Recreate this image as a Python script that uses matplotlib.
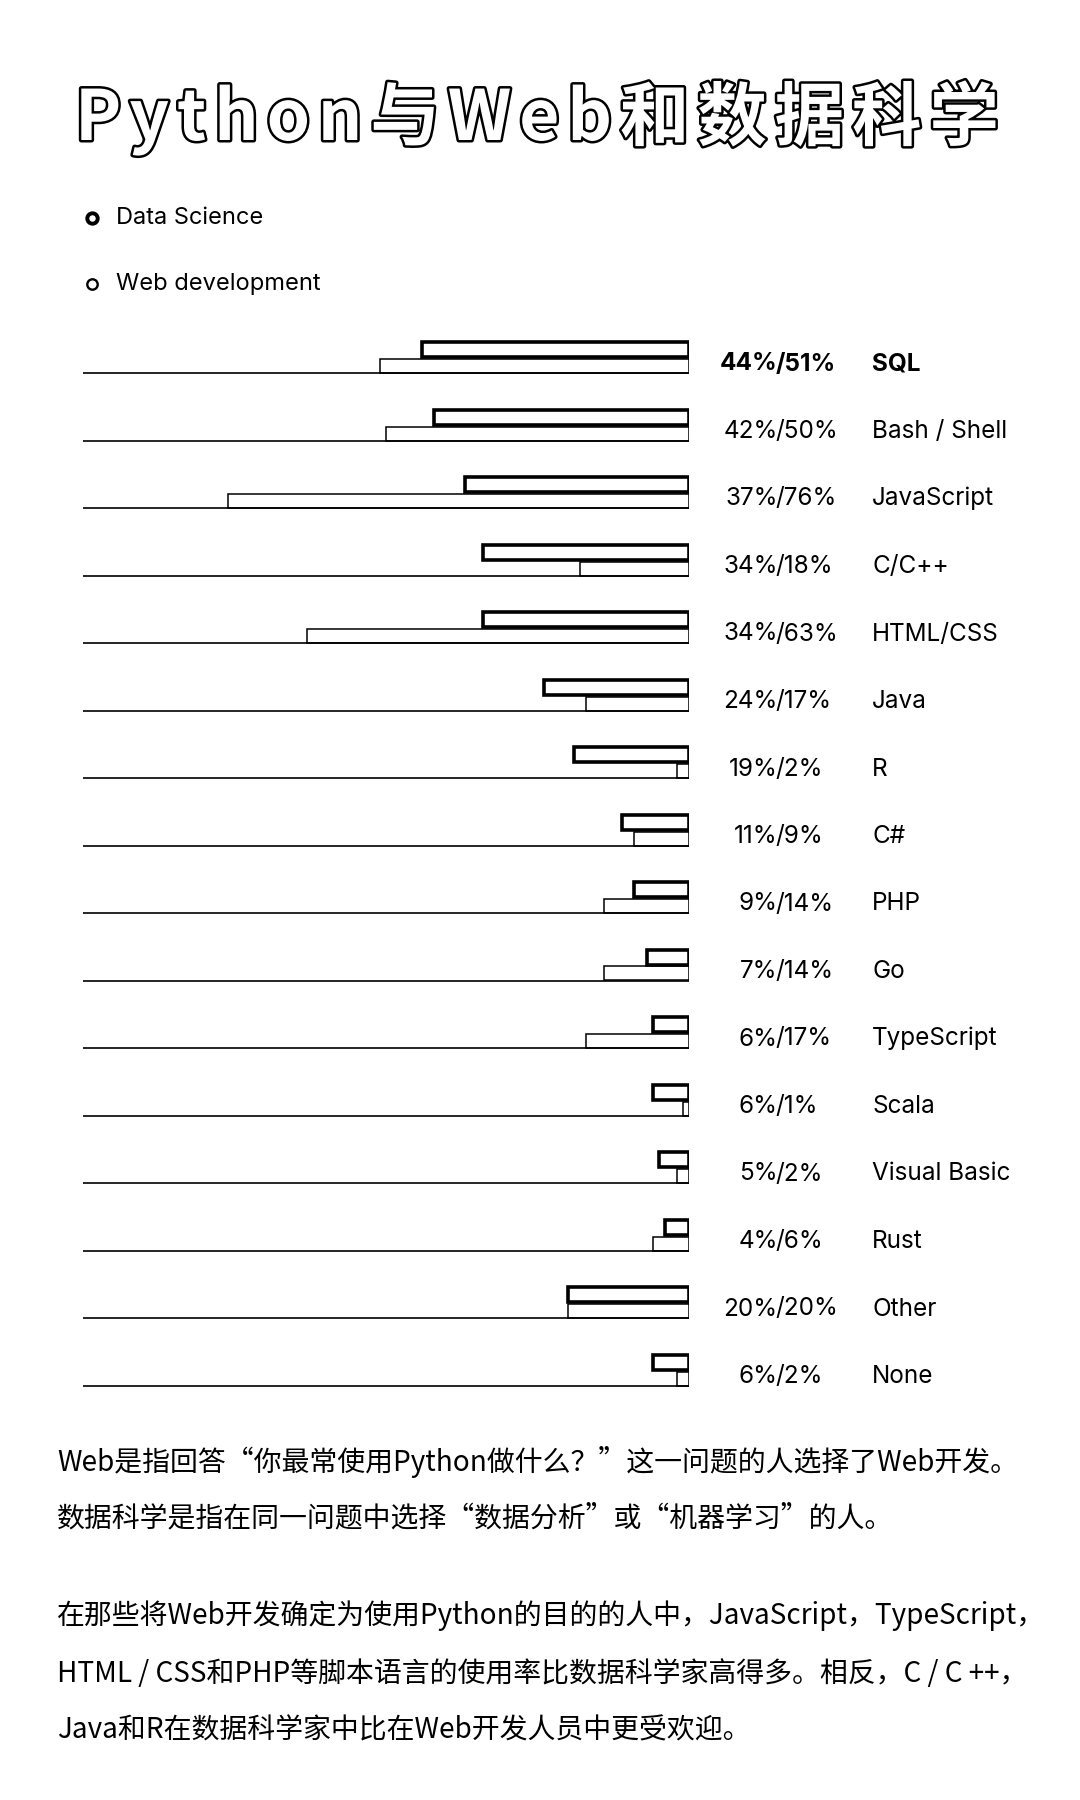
import matplotlib
matplotlib.use("Agg")
import matplotlib.pyplot as plt
import matplotlib.patheffects as pe
from matplotlib.lines import Line2D

# ---------------- data ----------------
categories = ["SQL", "Bash / Shell", "JavaScript", "C/C++", "HTML/CSS", "Java", "R", "C#",
              "PHP", "Go", "TypeScript", "Scala", "Visual Basic", "Rust", "Other", "None"]
data_science = [44, 42, 37, 34, 34, 24, 19, 11, 9, 7, 6, 6, 5, 4, 20, 6]
web_dev = [51, 50, 76, 18, 63, 17, 2, 9, 14, 14, 17, 1, 2, 6, 20, 2]
series_names = ["Data Science", "Web development"]
title = "Python与Web和数据科学"
notes = [
    "Web是指回答“你最常使用Python做什么？”这一问题的人选择了Web开发。",
    "数据科学是指在同一问题中选择“数据分析”或“机器学习”的人。",
    "",
    "在那些将Web开发确定为使用Python的目的的人中，JavaScript，TypeScript，",
    "HTML / CSS和PHP等脚本语言的使用率比数据科学家高得多。相反，C / C ++，",
    "Java和R在数据科学家中比在Web开发人员中更受欢迎。",
]

W, H = 1080, 1800
fig = plt.figure(figsize=(W / 100, H / 100), dpi=100)
fig.patch.set_facecolor("white")

def fx(px):
    return px / W

def fy(py):
    return 1 - py / H

LAT = ["Inter", "DejaVu Sans"]
CJK = ["Noto Sans CJK SC", "DejaVu Sans"]

# ---------------- title (letter-spaced, outlined) ----------------
renderer = fig.canvas.get_renderer()
tsize = 50
widths = []
for ch in title:
    t = fig.text(0, 0, ch, fontsize=tsize, family=CJK, weight="bold")
    widths.append(t.get_window_extent(renderer).width)
    t.remove()
x0, x1 = 75, 999
gap = ((x1 - x0) - sum(widths)) / (len(title) - 1)
cx = x0
for ch, w in zip(title, widths):
    fig.text(fx(cx), fy(140), ch, fontsize=tsize, family=CJK, weight="bold",
             color="white", ha="left", va="baseline",
             path_effects=[pe.Stroke(linewidth=3.6, foreground="black"), pe.Normal()])
    cx += w + gap

# ---------------- legend ----------------
leg_y = [218, 284]
for name, yy, mew in zip(series_names, leg_y, [2.8, 1.7]):
    fig.add_artist(Line2D([fx(92)], [fy(yy)], marker="o", markersize=7.5,
                          markerfacecolor="white", markeredgecolor="black",
                          markeredgewidth=mew, linestyle="none",
                          transform=fig.transFigure))
    fig.text(fx(116), fy(yy), name, fontsize=17, family=LAT, va="center", ha="left")

# ---------------- bars ----------------
row_h = 67.5
first_base = 373
n = len(categories)
top_px = first_base - 0.7 * row_h
bot_px = first_base + (n - 1) * row_h + 0.3 * row_h
ax = fig.add_axes([fx(83), fy(bot_px), fx(689) - fx(83), (bot_px - top_px) / H])
ax.set_xlim(100, 0)
ax.set_ylim(n - 1 + 0.3, -0.7)
ax.axis("off")

ys = list(range(n))
ds_c = 23.5 / row_h
ds_h = 15 / row_h
wd_c = 7 / row_h
wd_h = 14 / row_h
ax.hlines(ys, 0, 100, color="black", linewidth=1.2)
ax.barh([y - wd_c for y in ys], web_dev, height=wd_h, left=0, fill=False,
        edgecolor="black", linewidth=1.1)
ax.barh([y - ds_c for y in ys], data_science, height=ds_h, left=0, fill=False,
        edgecolor="black", linewidth=2.6)

# ---------------- value labels & categories ----------------
lab_size = 17.5
probe = fig.text(0, 0, "00%", fontsize=lab_size, family=LAT)
w00 = probe.get_window_extent(renderer).width
probe.remove()
split_x = 723 + w00
for i, (cat, d, wv) in enumerate(zip(categories, data_science, web_dev)):
    base = first_base + i * row_h
    wt = "bold" if i == 0 else "normal"
    yy = fy(base - 2.5)
    fig.text(fx(split_x), yy, f"{d}%", fontsize=lab_size, family=LAT, weight=wt,
             ha="right", va="baseline")
    fig.text(fx(split_x - 2), yy, f"/{wv}%", fontsize=lab_size, family=LAT, weight=wt,
             ha="left", va="baseline")
    fig.text(fx(872), yy, cat, fontsize=lab_size, family=LAT, weight=wt,
             ha="left", va="baseline")

# ---------------- notes ----------------
note_y = [1462, 1518, None, 1616, 1674, 1730]
for line, yy in zip(notes, note_y):
    if line and yy is not None:
        fig.text(fx(57), fy(yy), line, fontsize=20.1, family=CJK, ha="left", va="center")

fig.savefig("out.png", dpi=100, facecolor="white")
